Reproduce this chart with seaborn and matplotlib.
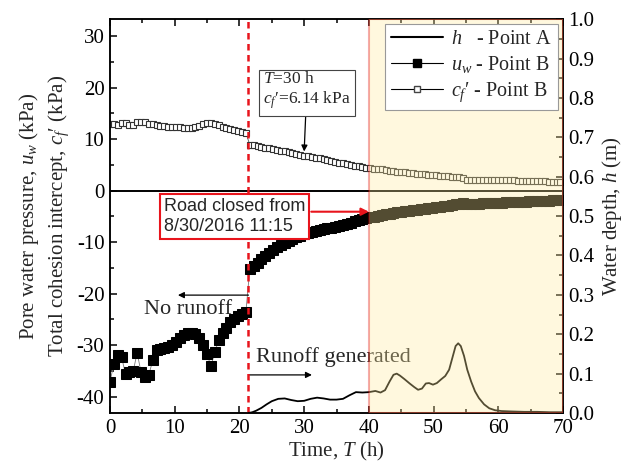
import numpy as np
import matplotlib
matplotlib.use("Agg")
import matplotlib.pyplot as plt
from matplotlib.lines import Line2D
from matplotlib.ticker import MultipleLocator, FormatStrFormatter
import seaborn as sns

# sampling times of the suction sensor (h), logged every 0.6 h
time_b = np.round(np.arange(0, 70.0, 0.6), 1)

# pore water pressure at point B (kPa)
u_w = [
    -37.2, -33.6, -32.0, -32.4, -35.6, -35.2, -35.0, -31.5, -35.3, -36.3,
    -35.8, -33.0, -31.0, -30.8, -30.6, -30.4, -30.0, -29.4, -28.7, -28.1,
    -27.7, -27.6, -27.9, -28.6, -30.0, -31.8, -34.1, -31.4, -29.0, -27.6,
    -26.6, -25.6, -24.9, -24.3, -23.9, -23.6,
    -15.2, -14.6, -14.0, -13.3, -12.7, -12.1, -11.5, -11.0, -10.5, -10.1,
    -9.7, -9.4, -9.1, -8.8, -8.5, -8.3, -8.1, -7.9, -7.7, -7.5,
    -7.3, -7.2, -7.0, -6.8, -6.6, -6.4, -6.2, -6.0, -5.8, -5.6,
    -5.4, -5.2, -5.1, -4.9, -4.8, -4.6, -4.5, -4.3, -4.2, -4.1,
    -4.0, -3.9, -3.8, -3.7, -3.6, -3.5, -3.4, -3.3, -3.2, -3.1,
    -3.0, -2.9, -2.8, -2.7, -2.6, -2.5, -2.6, -2.6, -2.6, -2.6,
    -2.5, -2.5, -2.5, -2.4, -2.4, -2.4, -2.3, -2.3, -2.3, -2.2,
    -2.2, -2.2, -2.1, -2.1, -2.1, -2.0, -2.0, -2.0, -1.9, -1.9,
    -1.8,
]

# total cohesion intercept at point B (kPa)
c_f = [
    13.0, 13.0, 12.8, 13.1, 13.1, 12.7, 12.8, 13.3, 13.4, 13.4,
    13.0, 12.9, 12.8, 12.6, 12.5, 12.4, 12.4, 12.3, 12.3, 12.2,
    12.2, 12.2, 12.3, 12.6, 12.9, 13.1, 13.2, 13.0, 12.7, 12.4,
    12.1, 11.9, 11.7, 11.5, 11.3, 11.2,
    8.9, 8.8, 8.6, 8.5, 8.3, 8.2, 8.0, 7.9, 7.7, 7.6,
    7.4, 7.3, 7.1, 7.0, 6.8, 6.7, 6.6, 6.4, 6.3, 6.1,
    6.0, 5.8, 5.6, 5.4, 5.3, 5.1, 5.0, 4.8, 4.7, 4.5,
    4.4, 4.3, 4.2, 4.1, 4.1, 4.0, 3.9, 3.8, 3.7, 3.6,
    3.6, 3.5, 3.4, 3.3, 3.3, 3.2, 3.1, 3.0, 3.0, 2.9,
    2.9, 2.8, 2.7, 2.7, 2.6, 2.4, 2.1, 2.1, 2.1, 2.1,
    2.1, 2.1, 2.1, 2.1, 2.1, 2.0, 2.0, 2.0, 2.0, 1.9,
    1.9, 1.9, 1.9, 1.9, 1.8, 1.8, 1.8, 1.7, 1.7, 1.7,
    1.6,
]

# water depth at point A (m)
time_a = [21.4, 22.0, 22.6, 23.4, 24.2, 25.0, 26.0, 27.0, 28.0, 29.0,
          30.0, 31.0, 32.0, 33.0, 34.0, 35.0, 36.0, 37.0, 38.0, 39.0,
          40.0, 41.0, 41.8, 42.5, 43.2, 43.8, 44.3, 44.8, 45.5, 46.3,
          47.0, 47.6, 48.2, 48.8, 49.3, 49.9, 50.5, 51.2, 51.8, 52.4,
          52.9, 53.4, 53.8, 54.2, 54.7, 55.2, 55.8, 56.4, 57.0, 57.8,
          58.6, 59.5, 60.5, 62.0, 64.0, 66.0, 68.0, 70.0]
h = [0.000, 0.002, 0.006, 0.013, 0.022, 0.030, 0.036, 0.037, 0.033, 0.030,
     0.031, 0.036, 0.039, 0.037, 0.034, 0.034, 0.036, 0.045, 0.053, 0.052,
     0.053, 0.056, 0.052, 0.058, 0.080, 0.097, 0.100, 0.095, 0.086, 0.075,
     0.066, 0.059, 0.062, 0.075, 0.076, 0.072, 0.076, 0.086, 0.094, 0.110,
     0.140, 0.170, 0.177, 0.170, 0.145, 0.110, 0.080, 0.055, 0.038, 0.022,
     0.012, 0.007, 0.005, 0.004, 0.003, 0.003, 0.002, 0.002]

t_closed = 21.4
t_shade = (40, 70)

sns.set_theme(style="ticks")
plt.rcParams['font.family'] = ['Liberation Serif', 'DejaVu Serif']
plt.rcParams['mathtext.fontset'] = 'custom'
plt.rcParams['mathtext.rm'] = 'Liberation Serif'
plt.rcParams['mathtext.it'] = 'Liberation Serif:italic'
plt.rcParams['axes.unicode_minus'] = False
plt.rcParams['axes.linewidth'] = 1.1
plt.rcParams['axes.edgecolor'] = 'black'

fig, ax = plt.subplots(figsize=(6.27, 4.67), dpi=100)
fig.subplots_adjust(left=0.1754, right=0.898, bottom=0.1156, top=0.959)
ax2 = ax.twinx()

# left axis series
sns.lineplot(x=time_b, y=c_f, ax=ax, estimator=None, sort=False,
             color='#555555', lw=0.6, marker='s', markersize=5,
             markerfacecolor='white', markeredgecolor='#333333', markeredgewidth=0.8)
sns.lineplot(x=time_b, y=u_w, ax=ax, estimator=None, sort=False,
             color='#777777', lw=0.6, marker='s', markersize=7,
             markerfacecolor='black', markeredgecolor='black')

ax.axhline(0, color='black', lw=1.4, zorder=1)
ax.axvline(t_closed, color='#E8141C', lw=1.8, ls=(0, (2.6, 1.8)), zorder=4)

# right axis series
sns.lineplot(x=time_a, y=h, ax=ax2, estimator=None, sort=False, color='black', lw=1.3)
ax2.axvspan(*t_shade, facecolor='#FFEA9B', edgecolor='#E00000', lw=1.5, alpha=0.33, zorder=3)

ax.set_xlim(0, 70)
ax.set_ylim(-43.2, 33.3)
ax2.set_ylim(0, 1.0)

ax.xaxis.set_major_locator(MultipleLocator(10))
ax.xaxis.set_minor_locator(MultipleLocator(5))
ax.yaxis.set_major_locator(MultipleLocator(10))
ax.yaxis.set_minor_locator(MultipleLocator(5))
ax2.yaxis.set_major_locator(MultipleLocator(0.1))
ax2.yaxis.set_minor_locator(MultipleLocator(0.05))
ax2.yaxis.set_major_formatter(FormatStrFormatter('%.1f'))

fs = 15
ax.tick_params(which='both', direction='in', top=True, right=False, labelsize=fs, width=1.1, colors='black')
ax.tick_params(which='major', length=5)
ax.tick_params(which='minor', length=3)
ax2.tick_params(which='both', direction='in', labelsize=fs, width=1.1, colors='black')
ax2.tick_params(which='major', length=5)
ax2.tick_params(which='minor', length=3)
ax.tick_params(axis='both', pad=4)

cf_sym = '$c_f$\u2032'

ax.set_xlabel('Time, $T$ (h)', fontsize=fs, labelpad=2)
ax.set_ylabel('Pore water pressure, $u_w$ (kPa)\nTotal cohesion intercept, ' + cf_sym + ' (kPa)',
              fontsize=fs, linespacing=1.35, labelpad=4)
ax2.set_ylabel('Water depth, $h$ (m)', fontsize=fs, labelpad=4)

# annotations
ax.annotate('$T$=30 h\n' + cf_sym + '=6.14 kPa', xy=(30, 7.6), xytext=(30.4, 19.3),
            ha='center', va='center', fontsize=12.5, multialignment='left',
            bbox=dict(boxstyle='square,pad=0.25', fc='white', ec='#444444', lw=0.8),
            arrowprops=dict(arrowstyle='-|>', color='black', lw=0.9, mutation_scale=9, shrinkA=0, shrinkB=0))

ax.text(19.2, -5.0, 'Road closed from\n8/30/2016 11:15', ha='center', va='center',
        fontsize=13, family='Liberation Sans', multialignment='left', zorder=6,
        bbox=dict(boxstyle='square,pad=0.22', fc='white', ec='#E8141C', lw=1.5))
ax.annotate('', xy=(40, -4.1), xytext=(31.1, -4.1),
            arrowprops=dict(arrowstyle='-|>', color='#E8141C', lw=1.5, mutation_scale=11, shrinkA=0, shrinkB=0))

ax.annotate('', xy=(10.5, -20.3), xytext=(t_closed, -20.3),
            arrowprops=dict(arrowstyle='-|>', color='black', lw=0.9, mutation_scale=9, shrinkA=0, shrinkB=0))
ax.text(12.0, -23.0, 'No runoff', ha='center', va='center', fontsize=16)

ax.annotate('', xy=(31.2, -35.8), xytext=(t_closed, -35.8),
            arrowprops=dict(arrowstyle='-|>', color='black', lw=0.9, mutation_scale=9, shrinkA=0, shrinkB=0))
ax.text(22.6, -32.4, 'Runoff generated', ha='left', va='center', fontsize=16)

handles = [
    Line2D([], [], color='black', lw=1.5),
    Line2D([], [], color='black', lw=0.8, marker='s', markersize=6, markerfacecolor='black'),
    Line2D([], [], color='black', lw=0.8, marker='s', markersize=4,
           markerfacecolor='white', markeredgecolor='#444444'),
]
labels = ['$h$   - Point A', '$u_w$ - Point B', cf_sym + ' - Point B']
leg = ax2.legend(handles, labels, loc='upper right', fontsize=14.5, frameon=True, fancybox=False,
                 edgecolor='#999999', framealpha=1, handlelength=2.6, handletextpad=0.4,
                 borderaxespad=0.25, borderpad=0.3, labelspacing=0.25)
leg.get_frame().set_linewidth(0.8)
leg.set_zorder(10)

plt.savefig('out.png', dpi=100)
